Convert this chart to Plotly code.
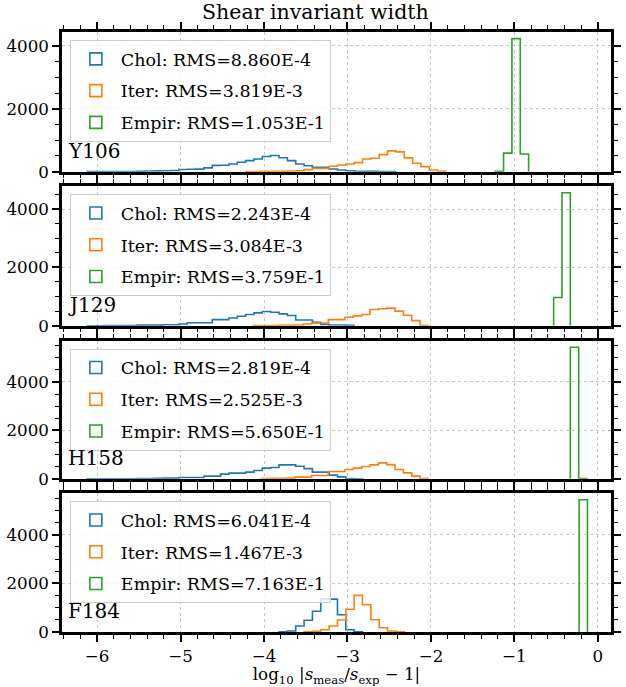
import numpy as np
import plotly.graph_objects as go

BIN = 0.1
COLORS = ["#1f77b4", "#ff7f0e", "#2ca02c"]
PANELS = ["Y106", "J129", "H158", "F184"]
METHODS = ["Chol", "Iter", "Empir"]

# RMS values per panel (Chol, Iter, Empir)
rms_Y106 = ["8.860E-4", "3.819E-3", "1.053E-1"]
rms_J129 = ["2.243E-4", "3.084E-3", "3.759E-1"]
rms_H158 = ["2.819E-4", "2.525E-3", "5.650E-1"]
rms_F184 = ["6.041E-4", "1.467E-3", "7.163E-1"]

# Histogram data: first bin left edge and counts (bin width BIN)
Y106_chol_start = -6.12
Y106_chol = [1, 1, 2, 2, 3, 4, 15, 20, 25, 30, 35, 70, 75, 80, 120, 200, 205, 245, 300, 350,
             405, 480, 515, 440, 350, 245, 190, 138, 138, 85, 53, 30, 12, 10, 8, 6, 4]
Y106_iter_start = -4.22
Y106_iter = [3, 5, 8, 12, 15, 20, 30, 64, 106, 106, 170, 213, 245, 287, 405, 425, 543, 660,
             630, 437, 266, 160, 53, 15]
Y106_empir_start = -1.23
Y106_empir = [10, 590, 4230, 560]

J129_chol_start = -6.12
J129_chol = [1, 1, 2, 3, 4, 6, 20, 20, 20, 35, 35, 58, 104, 104, 104, 209, 209, 267, 325, 383,
             441, 487, 464, 406, 348, 197, 197, 116, 46, 23, 23, 10]
J129_iter_start = -4.13
J129_iter = [3, 5, 8, 15, 18, 22, 58, 93, 93, 209, 209, 290, 337, 383, 557, 580, 603, 499,
             360, 174, 8]
J129_empir_start = -0.53
J129_empir = [970, 4560]

H158_chol_start = -6.12
H158_chol = [1, 2, 2, 3, 5, 7, 10, 15, 22, 29, 29, 54, 54, 54, 111, 111, 194, 235, 235, 276,
             342, 441, 466, 577, 577, 523, 424, 276, 276, 152, 82, 15, 6]
H158_iter_start = -4.03
H158_iter = [12, 18, 25, 29, 70, 70, 136, 136, 301, 301, 383, 441, 507, 577, 659, 589, 383,
             247, 111, 8]
H158_empir_start = -0.33
H158_empir = [5432, 10]

F184_chol_start = -3.82
F184_chol = [5, 41, 247, 481, 851, 1360, 1350, 711, 95, 5]
F184_iter_start = -3.52
F184_iter = [8, 29, 95, 247, 493, 933, 1504, 1122, 506, 177, 41, 5]
F184_empir_start = -0.225
F184_empir = [5436]

data = {
    "Y106": [(Y106_chol_start, Y106_chol), (Y106_iter_start, Y106_iter), (Y106_empir_start, Y106_empir)],
    "J129": [(J129_chol_start, J129_chol), (J129_iter_start, J129_iter), (J129_empir_start, J129_empir)],
    "H158": [(H158_chol_start, H158_chol), (H158_iter_start, H158_iter), (H158_empir_start, H158_empir)],
    "F184": [(F184_chol_start, F184_chol), (F184_iter_start, F184_iter), (F184_empir_start, F184_empir)],
}
rms = {"Y106": rms_Y106, "J129": rms_J129, "H158": rms_H158, "F184": rms_F184}

W, H = 626, 687
L, R, T, B = 62, 5, 31.7, 54.7
plot_h = H - T - B
# panel pixel extents (top, bottom) measured from top of figure
panel_px = [(31.7, 171.5), (186.0, 325.7), (340.7, 479.0), (493.3, 632.3)]
def frac(y):
    return (H - B - y) / plot_h

FONT = "DejaVu Serif"
fig = go.Figure()

for i, p in enumerate(PANELS):
    n = i + 1
    xa = "x" if n == 1 else f"x{n}"
    ya = "y" if n == 1 else f"y{n}"
    lg = "legend" if n == 1 else f"legend{n}"
    ymax = 0
    for j, (start, counts) in enumerate(data[p]):
        counts = np.array(counts, dtype=float)
        edges = start + BIN * np.arange(len(counts) + 1)
        ymax = max(ymax, counts.max())
        # step outline (histtype='step')
        xs = np.concatenate([[edges[0]], edges[:-1], [edges[-1]]])
        ys = np.concatenate([[0.0], counts, [0.0]])
        fig.add_trace(go.Scatter(
            x=xs, y=ys, mode="lines", line=dict(color=COLORS[j], width=1.6, shape="hv"),
            xaxis=xa, yaxis=ya, showlegend=False, hoverinfo="skip",
        ))
        # legend entry (outlined box)
        fig.add_trace(go.Bar(
            x=[None], y=[None],
            marker=dict(color="rgba(0,0,0,0)", line=dict(color=COLORS[j], width=1.6)),
            name=f"{METHODS[j]}: RMS={rms[p][j]}",
            xaxis=xa, yaxis=ya, legend=lg, legendgroup=f"{p}{j}",
            showlegend=True, hoverinfo="skip",
        ))
    top, bot = panel_px[i]
    common = dict(
        showline=True, linewidth=2.5, linecolor="black", mirror="allticks",
        ticks="outside", ticklen=7, tickwidth=1.5, tickcolor="black",
        showgrid=True, gridcolor="#c8c8c8", griddash="dot", gridwidth=1,
        zeroline=False, tickfont=dict(family=FONT, size=16.7, color="black"),
    )
    fig.layout[f"xaxis{'' if n == 1 else n}"] = dict(
        domain=[0, 1], range=[-6.42, 0.157], dtick=1, tick0=0,
        minor=dict(dtick=0.2, ticks="outside", ticklen=4, tickwidth=1, tickcolor="black", showgrid=False),
        showticklabels=(n == 4), anchor=ya, matches=None if n == 1 else "x",
        **common,
    )
    fig.layout[f"yaxis{'' if n == 1 else n}"] = dict(
        domain=[frac(bot), frac(top)], range=[0, ymax * 1.05], dtick=2000, tick0=0,
        tickformat="d",
        minor=dict(dtick=500, ticks="outside", ticklen=4, tickwidth=1, tickcolor="black", showgrid=False),
        anchor=xa, **common,
    )
    fig.layout[lg] = dict(
        x=(70 - L) / (W - L - R), y=frac(top + 8), xanchor="left", yanchor="top",
        bgcolor="rgba(255,255,255,0.8)", bordercolor="#cccccc", borderwidth=1,
        font=dict(family=FONT, size=17.5, color="black"), tracegroupgap=6,
        itemwidth=40,
    )
    fig.add_annotation(
        text=p, xref=f"{xa} domain", yref=f"{ya} domain", x=0.008, y=0.05,
        xanchor="left", yanchor="bottom", showarrow=False,
        font=dict(family=FONT, size=20, color="black"),
    )

fig.layout.xaxis4.title = dict(
    text="log<sub>10</sub> |<i>s</i><sub>meas</sub>/<i>s</i><sub>exp</sub> − 1|",
    font=dict(family=FONT, size=16.7, color="black"), standoff=2,
)

fig.update_layout(
    width=W, height=H, margin=dict(l=L, r=R, t=T, b=B),
    paper_bgcolor="white", plot_bgcolor="white", barmode="overlay", bargap=0,
    title=dict(text="Shear invariant width", x=(320 - L) / (W - L - R), xref="paper",
               xanchor="center", y=1 - 12 / H, yref="container", yanchor="middle",
               font=dict(family=FONT, size=20.5, color="black")),
    font=dict(family=FONT),
)

fig.write_html("out.html")
